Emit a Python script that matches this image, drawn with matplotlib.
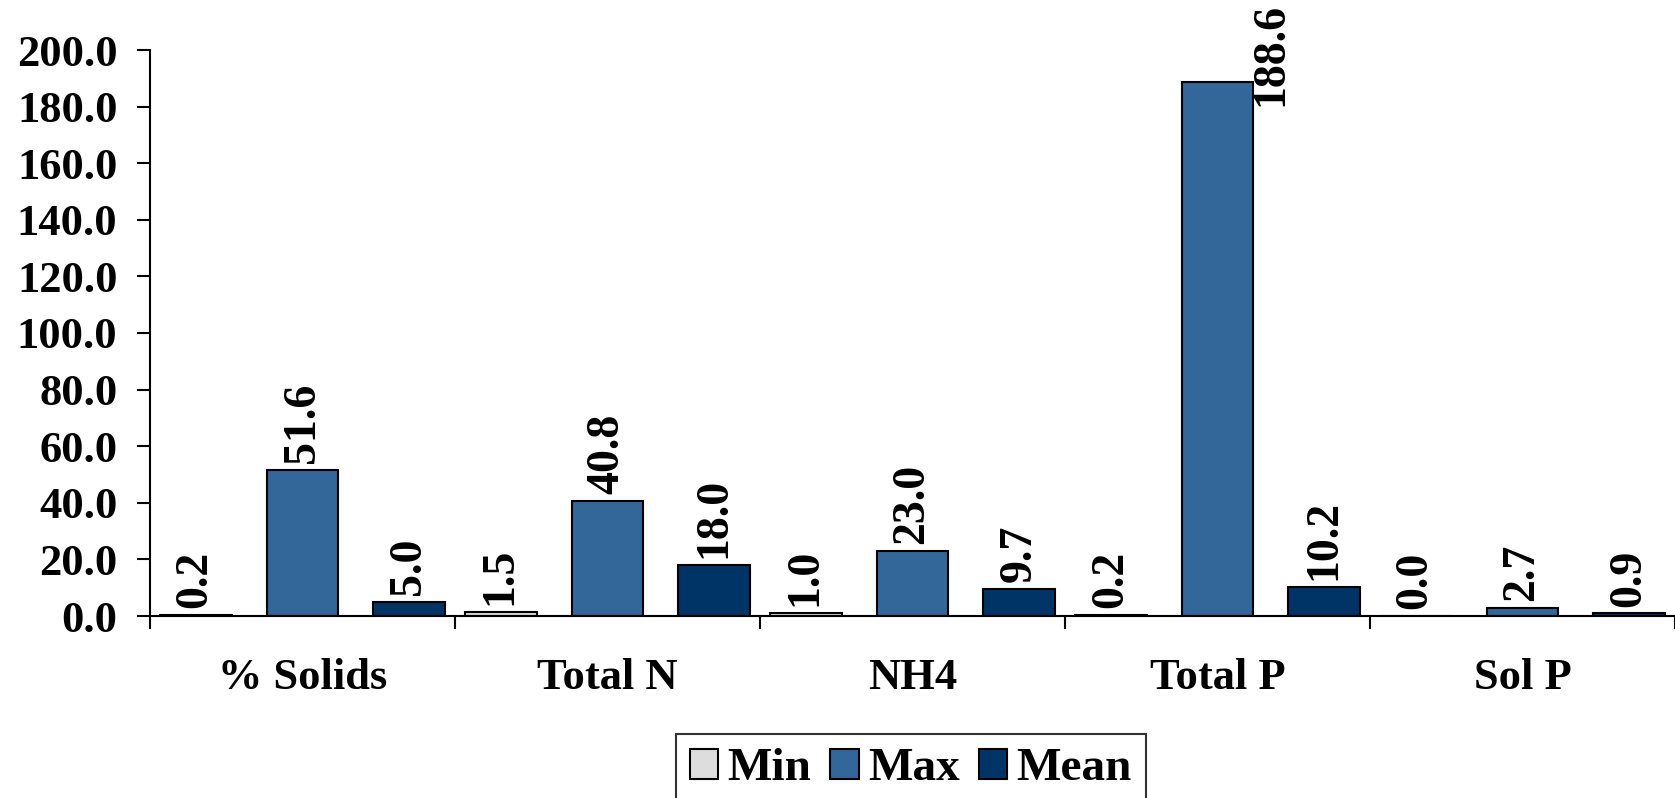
import matplotlib
matplotlib.use('Agg')
import matplotlib.pyplot as plt
import numpy as np

# dati
categorie = ['% Solids', 'Total N', 'NH4', 'Total P', 'Sol P']
valori_min = [0.2, 1.5, 1.0, 0.2, 0.0]
valori_max = [51.6, 40.8, 23.0, 188.6, 2.7]
valori_mean = [5.0, 18.0, 9.7, 10.2, 0.9]
serie = ['Min', 'Max', 'Mean']
colori = ['#DDDDDD', '#336699', '#003366']

plt.rcParams['font.family'] = ['Liberation Serif', 'DejaVu Serif']
plt.rcParams['font.weight'] = 'bold'
fs = 32

fig = plt.figure(figsize=(16.75, 7.98), dpi=100)
ax = fig.add_axes([150 / 1675, 182 / 798, 1 - 150 / 1675, (616 - 50) / 798])

x = np.arange(len(categorie))
larghezza = 0.235
passo = 0.35
ymax = 200

for i, (valori, nome, col) in enumerate(zip([valori_min, valori_max, valori_mean], serie, colori)):
    pos = x + (i - 1) * passo
    ax.bar(pos, valori, width=larghezza, color=col, edgecolor='black', linewidth=1.5, label=nome)
    for xp, v in zip(pos, valori):
        if v + 30 > ymax:
            # etichetta che non entra: Excel la sposta a destra della barra
            ax.annotate(f'{v:.1f}', xy=(xp + larghezza / 2, v), xytext=(13, -17),
                        textcoords='offset points', rotation=90, ha='center', va='bottom',
                        fontsize=33, fontweight='bold', annotation_clip=False)
        else:
            ax.annotate(f'{v:.1f}', xy=(xp, v), xytext=(0, 5),
                        textcoords='offset points', rotation=90, ha='center', va='bottom',
                        fontsize=33, fontweight='bold')

ax.set_xlim(-0.5, len(categorie) - 0.5)
ax.set_ylim(0, ymax)
ax.set_yticks(np.arange(0, 201, 20))
ax.set_yticklabels([f'{t:.1f}' for t in np.arange(0, 201, 20)], fontsize=fs, fontweight='bold')
ax.tick_params(axis='y', length=9.4, width=1.5, pad=14)

ax.set_xticks(x)
ax.set_xticklabels(categorie, fontsize=fs, fontweight='bold')
ax.set_xticks(np.arange(-0.5, len(categorie)), minor=True)
ax.tick_params(axis='x', which='major', length=0, pad=30)
ax.tick_params(axis='x', which='minor', length=9.4, width=1.5)

ax.spines['right'].set_visible(False)
ax.spines['top'].set_visible(False)
ax.spines['left'].set_linewidth(1.5)
ax.spines['bottom'].set_linewidth(1.5)

leg = fig.legend(loc='upper center', bbox_to_anchor=(911 / 1675, 1 - 734 / 798), ncol=3,
                 fontsize=34, frameon=True, fancybox=False, edgecolor='black',
                 handlelength=0.6, handleheight=0.6, handletextpad=0.2, columnspacing=0.4,
                 borderpad=0.3, borderaxespad=0)
leg.get_frame().set_linewidth(1.5)
for t in leg.get_texts():
    t.set_fontweight('bold')

fig.savefig('out.png', dpi=100)
